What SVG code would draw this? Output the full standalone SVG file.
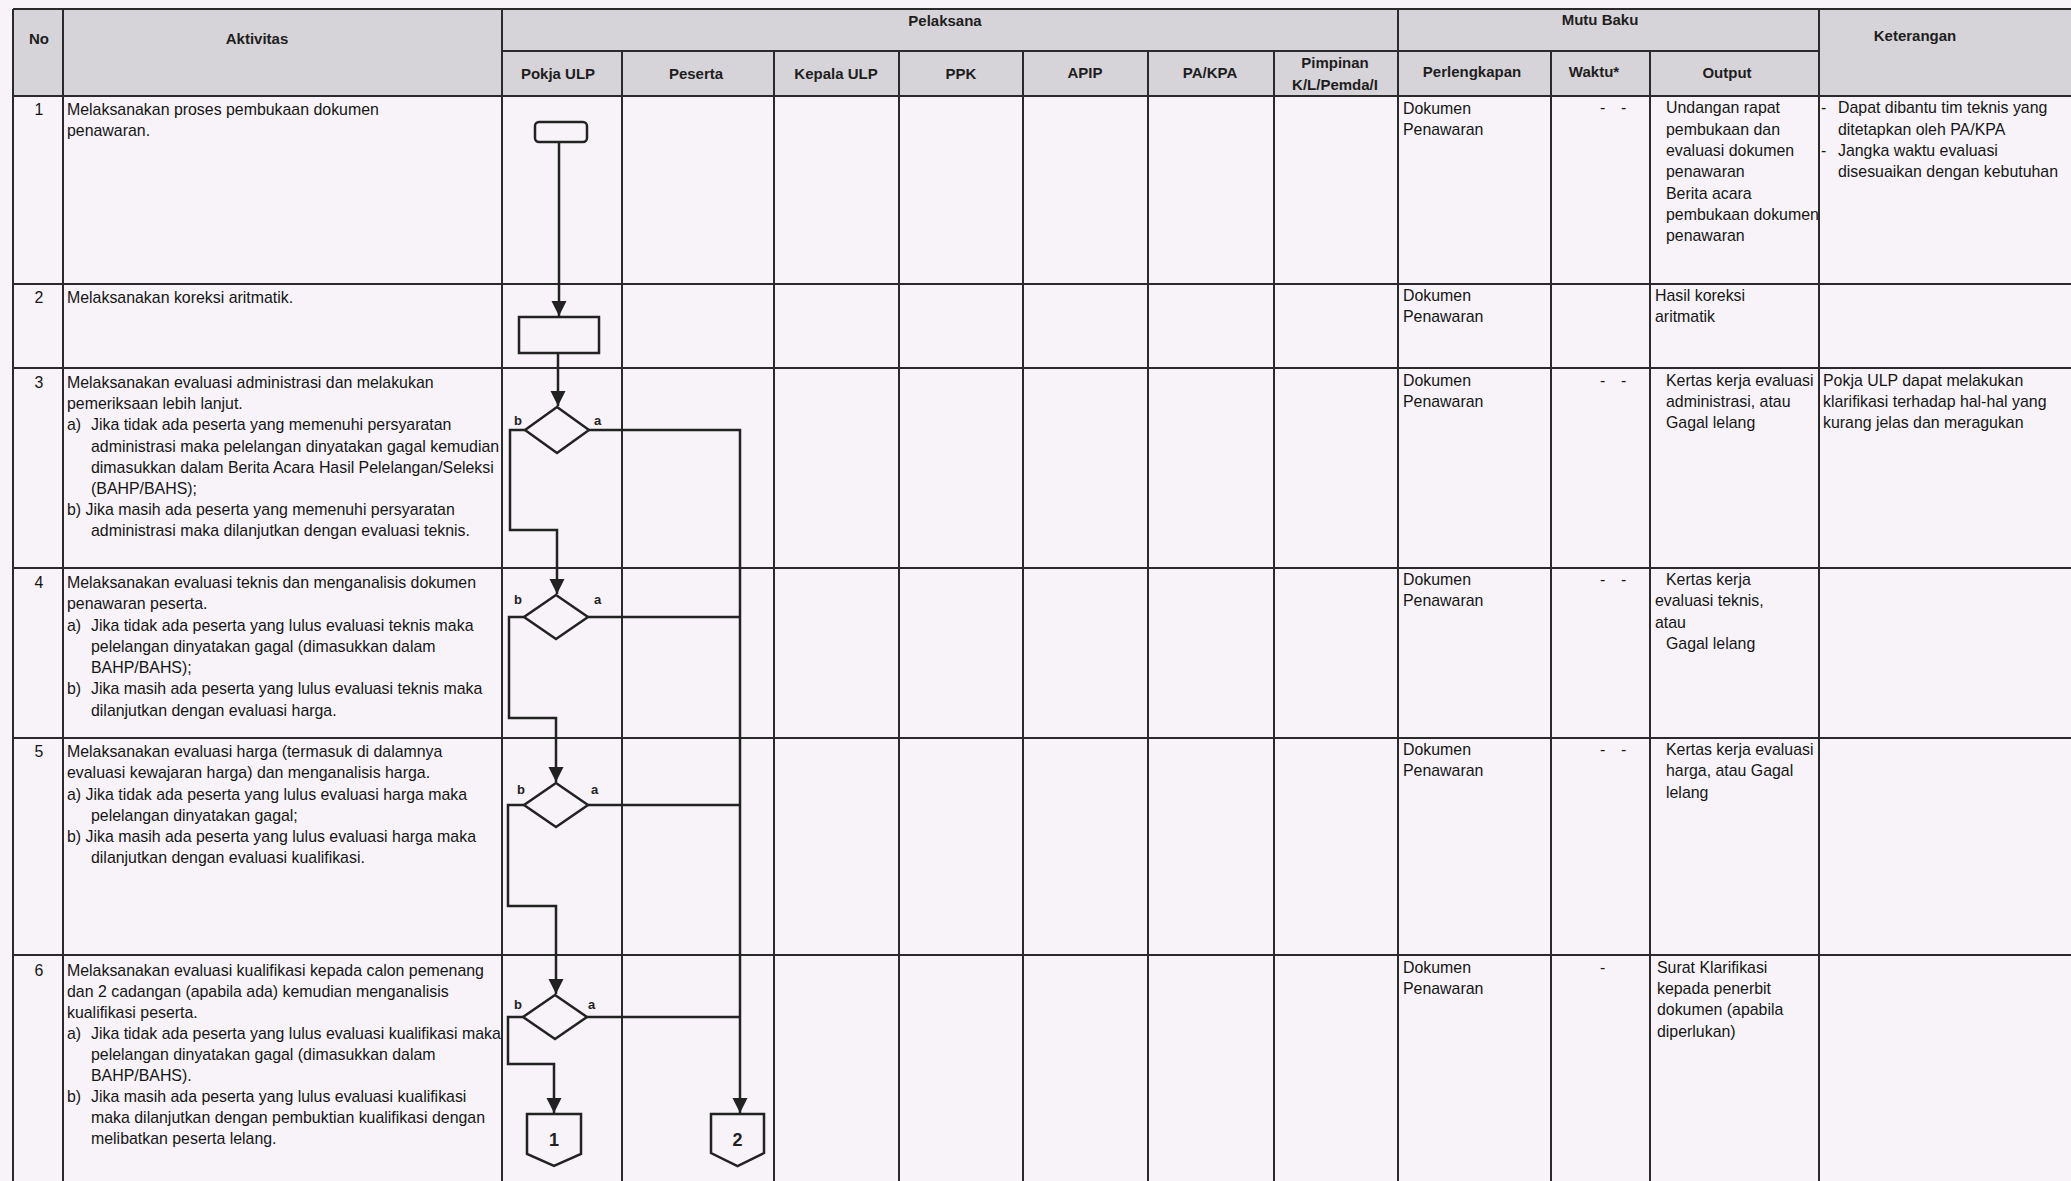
<svg xmlns="http://www.w3.org/2000/svg" width="2071" height="1181" viewBox="0 0 2071 1181">
<style>
.t{font-family:"Liberation Sans",Arial,sans-serif;font-size:15.9px;fill:#151515}
.h{font-family:"Liberation Sans",Arial,sans-serif;font-size:15px;font-weight:bold;fill:#1e1e1e;text-anchor:middle}
.c{text-anchor:middle}
.g{stroke:#2a2a2a;stroke-width:2;fill:none}
.f{stroke:#222;stroke-width:2.5;fill:none}
.fs{stroke:#222;stroke-width:2.5;fill:#f7f3f8}
.lb{font-family:"Liberation Sans",Arial,sans-serif;font-size:13px;font-weight:bold;fill:#222}
.cn{font-family:"Liberation Sans",Arial,sans-serif;font-size:18px;font-weight:bold;fill:#222;text-anchor:middle}
</style>
<defs>
<marker id="arr" markerUnits="userSpaceOnUse" markerWidth="16" markerHeight="16" refX="15" refY="7.5" orient="auto">
<path d="M0,0 L15,7.5 L0,15 z" fill="#222"/>
</marker>
</defs>
<rect x="0" y="0" width="2071" height="1181" fill="#f7f3f8"/>
<rect x="13" y="9" width="2058" height="87" fill="#d7d4d9"/>

<g id="grid">
<path class="g" d="M13,9 H2071 M502,51 H1819 M13,96 H2071 M13,284 H2071 M13,368 H2071 M13,568 H2071 M13,738 H2071 M13,955 H2071"/>
<path class="g" d="M13,9 V1181 M63,9 V1181 M502,9 V1181 M1398,9 V1181 M1819,9 V1181"/>
<path class="g" d="M622,51 V1181 M774,51 V1181 M899,51 V1181 M1023,51 V1181 M1148,51 V1181 M1274,51 V1181 M1551,51 V1181 M1650,51 V1181"/>
</g>

<g id="headers">
<text class="h" x="39" y="44">No</text>
<text class="h" x="257" y="44">Aktivitas</text>
<text class="h" x="945" y="26">Pelaksana</text>
<text class="h" x="1600" y="25">Mutu Baku</text>
<text class="h" x="1915" y="41">Keterangan</text>
<text class="h" x="558" y="79">Pokja ULP</text>
<text class="h" x="696" y="79">Peserta</text>
<text class="h" x="836" y="79">Kepala ULP</text>
<text class="h" x="961" y="79">PPK</text>
<text class="h" x="1085" y="78">APIP</text>
<text class="h" x="1210" y="78">PA/KPA</text>
<text class="h" x="1335" y="68">Pimpinan</text>
<text class="h" x="1335" y="90">K/L/Pemda/I</text>
<text class="h" x="1472" y="77">Perlengkapan</text>
<text class="h" x="1594" y="77">Waktu*</text>
<text class="h" x="1727" y="78">Output</text>
</g>

<g id="row1">
<text class="t c" x="39" y="115">1</text>
<text class="t" x="67" y="115">Melaksanakan proses pembukaan dokumen</text>
<text class="t" x="67" y="136">penawaran.</text>
<text class="t" x="1403" y="114">Dokumen</text>
<text class="t" x="1403" y="135">Penawaran</text>
<text class="t" x="1600" y="113">-</text><text class="t" x="1621" y="113">-</text>
<text class="t" x="1666" y="113">Undangan rapat</text>
<text class="t" x="1666" y="134.5">pembukaan dan</text>
<text class="t" x="1666" y="156">evaluasi dokumen</text>
<text class="t" x="1666" y="177">penawaran</text>
<text class="t" x="1666" y="198.5">Berita acara</text>
<text class="t" x="1666" y="220">pembukaan dokumen</text>
<text class="t" x="1666" y="241">penawaran</text>
<text class="t" x="1821" y="113">-</text>
<text class="t" x="1838" y="113">Dapat dibantu tim teknis yang</text>
<text class="t" x="1838" y="134.5">ditetapkan oleh PA/KPA</text>
<text class="t" x="1821" y="156">-</text>
<text class="t" x="1838" y="156">Jangka waktu evaluasi</text>
<text class="t" x="1838" y="177">disesuaikan dengan kebutuhan</text>
</g>

<g id="row2">
<text class="t c" x="39" y="303">2</text>
<text class="t" x="67" y="303">Melaksanakan koreksi aritmatik.</text>
<text class="t" x="1403" y="301">Dokumen</text>
<text class="t" x="1403" y="322">Penawaran</text>
<text class="t" x="1655" y="301">Hasil koreksi</text>
<text class="t" x="1655" y="322">aritmatik</text>
</g>

<g id="row3">
<text class="t c" x="39" y="388">3</text>
<text class="t" x="67" y="388">Melaksanakan evaluasi administrasi dan melakukan</text>
<text class="t" x="67" y="409">pemeriksaan lebih lanjut.</text>
<text class="t" x="67" y="430">a)</text>
<text class="t" x="91" y="430">Jika tidak ada peserta yang memenuhi persyaratan</text>
<text class="t" x="91" y="451.5">administrasi maka pelelangan dinyatakan gagal kemudian</text>
<text class="t" x="91" y="473">dimasukkan dalam Berita Acara Hasil Pelelangan/Seleksi</text>
<text class="t" x="91" y="494">(BAHP/BAHS);</text>
<text class="t" x="67" y="515">b) Jika masih ada peserta yang memenuhi persyaratan</text>
<text class="t" x="91" y="536">administrasi maka dilanjutkan dengan evaluasi teknis.</text>
<text class="t" x="1403" y="386">Dokumen</text>
<text class="t" x="1403" y="407">Penawaran</text>
<text class="t" x="1600" y="386">-</text><text class="t" x="1621" y="386">-</text>
<text class="t" x="1666" y="386">Kertas kerja evaluasi</text>
<text class="t" x="1666" y="407">administrasi, atau</text>
<text class="t" x="1666" y="428">Gagal lelang</text>
<text class="t" x="1823" y="386">Pokja ULP dapat melakukan</text>
<text class="t" x="1823" y="407">klarifikasi terhadap hal-hal yang</text>
<text class="t" x="1823" y="428">kurang jelas dan meragukan</text>
</g>

<g id="row4">
<text class="t c" x="39" y="588">4</text>
<text class="t" x="67" y="588">Melaksanakan evaluasi teknis dan menganalisis dokumen</text>
<text class="t" x="67" y="609">penawaran peserta.</text>
<text class="t" x="67" y="631">a)</text>
<text class="t" x="91" y="631">Jika tidak ada peserta yang lulus evaluasi teknis maka</text>
<text class="t" x="91" y="652">pelelangan dinyatakan gagal (dimasukkan dalam</text>
<text class="t" x="91" y="673">BAHP/BAHS);</text>
<text class="t" x="67" y="694">b)</text>
<text class="t" x="91" y="694">Jika masih ada peserta yang lulus evaluasi teknis maka</text>
<text class="t" x="91" y="716">dilanjutkan dengan evaluasi harga.</text>
<text class="t" x="1403" y="585">Dokumen</text>
<text class="t" x="1403" y="606">Penawaran</text>
<text class="t" x="1600" y="585">-</text><text class="t" x="1621" y="585">-</text>
<text class="t" x="1666" y="585">Kertas kerja</text>
<text class="t" x="1655" y="606">evaluasi teknis,</text>
<text class="t" x="1655" y="628">atau</text>
<text class="t" x="1666" y="649">Gagal lelang</text>
</g>

<g id="row5">
<text class="t c" x="39" y="757">5</text>
<text class="t" x="67" y="757">Melaksanakan evaluasi harga (termasuk di dalamnya</text>
<text class="t" x="67" y="778">evaluasi kewajaran harga) dan menganalisis harga.</text>
<text class="t" x="67" y="800">a) Jika tidak ada peserta yang lulus evaluasi harga maka</text>
<text class="t" x="91" y="821">pelelangan dinyatakan gagal;</text>
<text class="t" x="67" y="842">b) Jika masih ada peserta yang lulus evaluasi harga maka</text>
<text class="t" x="91" y="863">dilanjutkan dengan evaluasi kualifikasi.</text>
<text class="t" x="1403" y="755">Dokumen</text>
<text class="t" x="1403" y="776">Penawaran</text>
<text class="t" x="1600" y="755">-</text><text class="t" x="1621" y="755">-</text>
<text class="t" x="1666" y="755">Kertas kerja evaluasi</text>
<text class="t" x="1666" y="776">harga, atau Gagal</text>
<text class="t" x="1666" y="798">lelang</text>
</g>

<g id="row6">
<text class="t c" x="39" y="976">6</text>
<text class="t" x="67" y="976">Melaksanakan evaluasi kualifikasi kepada calon pemenang</text>
<text class="t" x="67" y="997">dan 2 cadangan (apabila ada) kemudian menganalisis</text>
<text class="t" x="67" y="1018">kualifikasi peserta.</text>
<text class="t" x="67" y="1039">a)</text>
<text class="t" x="91" y="1039">Jika tidak ada peserta yang lulus evaluasi kualifikasi maka</text>
<text class="t" x="91" y="1060">pelelangan dinyatakan gagal (dimasukkan dalam</text>
<text class="t" x="91" y="1081">BAHP/BAHS).</text>
<text class="t" x="67" y="1102">b)</text>
<text class="t" x="91" y="1102">Jika masih ada peserta yang lulus evaluasi kualifikasi</text>
<text class="t" x="91" y="1123">maka dilanjutkan dengan pembuktian kualifikasi dengan</text>
<text class="t" x="91" y="1144">melibatkan peserta lelang.</text>
<text class="t" x="1403" y="973">Dokumen</text>
<text class="t" x="1403" y="994">Penawaran</text>
<text class="t" x="1600" y="973">-</text>
<text class="t" x="1657" y="973">Surat Klarifikasi</text>
<text class="t" x="1657" y="994">kepada penerbit</text>
<text class="t" x="1657" y="1015">dokumen (apabila</text>
<text class="t" x="1657" y="1037">diperlukan)</text>
</g>

<g id="connectors">
<path class="f" d="M559,142 V316" marker-end="url(#arr)"/>
<path class="f" d="M558,353 V406" marker-end="url(#arr)"/>
<path class="f" d="M525,430 H510 V530 H557 V594" marker-end="url(#arr)"/>
<path class="f" d="M524,617 H509 V718 H556 V782" marker-end="url(#arr)"/>
<path class="f" d="M524,805 H508 V906 H556 V994" marker-end="url(#arr)"/>
<path class="f" d="M523,1017 H508 V1064 H554 V1113" marker-end="url(#arr)"/>
<path class="f" d="M589,430 H740 V1113" marker-end="url(#arr)"/>
<path class="f" d="M588,617 H740"/>
<path class="f" d="M588,805 H740"/>
<path class="f" d="M587,1017 H740"/>
</g>

<g id="n-start"><rect class="fs" x="535" y="122" width="52" height="20" rx="4"/></g>
<g id="n-koreksi"><rect class="fs" x="519" y="317" width="80" height="36"/></g>
<g id="n-d3">
<polygon class="fs" points="557,407 589,430 557,453 525,430"/>
<text class="lb" x="514" y="425">b</text><text class="lb" x="594" y="425">a</text>
</g>
<g id="n-d4">
<polygon class="fs" points="556,595 588,617 556,639 524,617"/>
<text class="lb" x="514" y="604">b</text><text class="lb" x="594" y="604">a</text>
</g>
<g id="n-d5">
<polygon class="fs" points="556,783 588,805 556,827 524,805"/>
<text class="lb" x="517" y="794">b</text><text class="lb" x="591" y="794">a</text>
</g>
<g id="n-d6">
<polygon class="fs" points="555,995 587,1017 555,1039 523,1017"/>
<text class="lb" x="514" y="1009">b</text><text class="lb" x="588" y="1009">a</text>
</g>
<g id="n-c1">
<polygon class="fs" points="527,1114 581,1114 581,1154 554,1166 527,1154"/>
<text class="cn" x="554" y="1146">1</text>
</g>
<g id="n-c2">
<polygon class="fs" points="711,1114 764,1114 764,1153 737.5,1166 711,1153"/>
<text class="cn" x="737.5" y="1146">2</text>
</g>
</svg>
